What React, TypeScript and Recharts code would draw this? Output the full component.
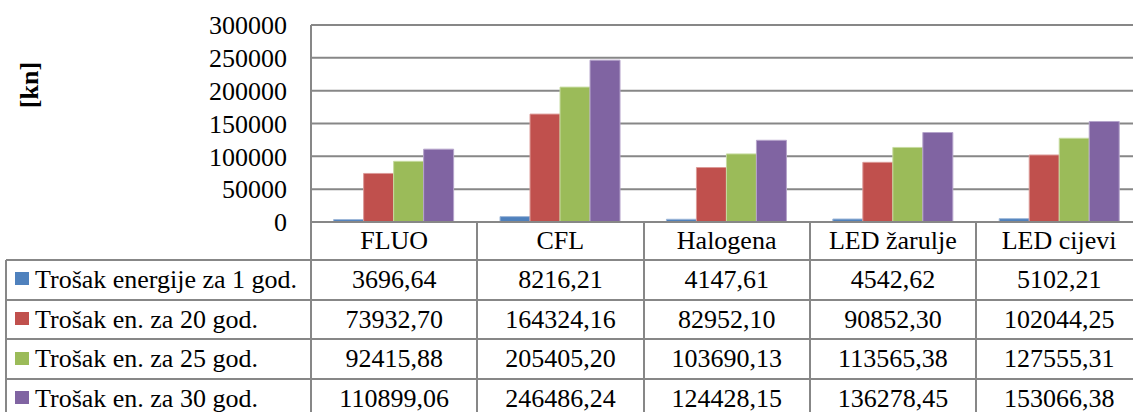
import { BarChart, Bar, XAxis, YAxis, CartesianGrid } from "recharts";

const categories = ["FLUO", "CFL", "Halogena", "LED žarulje", "LED cijevi"];
const seriesNames = [
  "Trošak energije za 1 god.",
  "Trošak en. za 20 god.",
  "Trošak en. za 25 god.",
  "Trošak en. za 30 god.",
];
const cost1 = [3696.64, 8216.21, 4147.61, 4542.62, 5102.21];
const cost20 = [73932.7, 164324.16, 82952.1, 90852.3, 102044.25];
const cost25 = [92415.88, 205405.2, 103690.13, 113565.38, 127555.31];
const cost30 = [110899.06, 246486.24, 124428.15, 136278.45, 153066.38];
const yTicks = [0, 50000, 100000, 150000, 200000, 250000, 300000];

const colors = ["#4F81BD", "#C0504D", "#9BBB59", "#8064A2"];
const edges = ["#9db7d8", "#dc9a98", "#c6db9f", "#b5a4cb"];
const seriesValues = [cost1, cost20, cost25, cost30];
const keys = ["s1", "s20", "s25", "s30"];

const chartData = categories.map((name, i) => ({
  name,
  s1: cost1[i],
  s20: cost20[i],
  s25: cost25[i],
  s30: cost30[i],
}));

// layout (Excel chart with a data table under the plot)
const FONT = '"Liberation Serif", serif';
const LINE = "#878787";
const PLOT_LEFT = 311;
const CAT_W = 166.25;
const PLOT_RIGHT = PLOT_LEFT + CAT_W * categories.length;
const PLOT_TOP = 25;
const PLOT_BOTTOM = 222;
const HEADER_BOTTOM = 260;
const ROW_H = 39.7;

const fmt = (v: number) => v.toFixed(2).replace(".", ",");

const hLine = (y: number, x1: number, x2: number, k: string) => (
  <div key={k} style={{ position: "absolute", left: x1, top: y - 1, width: x2 - x1, height: 2, background: LINE }} />
);
const vLine = (x: number, y1: number, y2: number, k: string) => (
  <div key={k} style={{ position: "absolute", left: x - 1, top: y1, width: 2, height: y2 - y1, background: LINE }} />
);

const DataTable = () => {
  const lines = [];
  lines.push(hLine(PLOT_BOTTOM, PLOT_LEFT, PLOT_RIGHT, "h-top"));
  for (let r = 0; r <= seriesNames.length; r++) {
    lines.push(hLine(HEADER_BOTTOM + r * ROW_H, 6, PLOT_RIGHT, `h${r}`));
  }
  lines.push(vLine(6, HEADER_BOTTOM, 412, "v-left"));
  for (let c = 0; c <= categories.length; c++) {
    lines.push(vLine(PLOT_LEFT + c * CAT_W, PLOT_BOTTOM, 412, `v${c}`));
  }
  const cell = { position: "absolute" as const, fontSize: 26, fontFamily: FONT, color: "#000", whiteSpace: "nowrap" as const };
  return (
    <>
      {categories.map((c, i) => (
        <div
          key={c}
          style={{ ...cell, left: PLOT_LEFT + i * CAT_W, width: CAT_W, top: PLOT_BOTTOM, height: HEADER_BOTTOM - PLOT_BOTTOM, lineHeight: `${HEADER_BOTTOM - PLOT_BOTTOM}px`, textAlign: "center" }}
        >
          {c}
        </div>
      ))}
      {seriesNames.map((s, r) => {
        const top = HEADER_BOTTOM + r * ROW_H;
        return (
          <div key={s}>
            <div style={{ position: "absolute", left: 15, top: top + ROW_H / 2 - 7.5, width: 14, height: 13, background: colors[r] }} />
            <div style={{ ...cell, left: 35, top, height: ROW_H, lineHeight: `${ROW_H}px` }}>{s}</div>
            {seriesValues[r].map((v, i) => (
              <div
                key={i}
                style={{ ...cell, left: PLOT_LEFT + i * CAT_W, width: CAT_W, top, height: ROW_H, lineHeight: `${ROW_H}px`, textAlign: "center" }}
              >
                {fmt(v)}
              </div>
            ))}
          </div>
        );
      })}
      {lines}
    </>
  );
};

export default function App() {
  return (
    <div style={{ position: "absolute", left: 0, top: 0, width: 1133, height: 412, overflow: "hidden", background: "#fff", fontFamily: FONT }}>
      <div
        style={{
          position: "absolute",
          left: 30 - 40,
          top: 85 - 16,
          width: 80,
          height: 32,
          lineHeight: "32px",
          textAlign: "center",
          transform: "rotate(-90deg)",
          fontWeight: "bold",
          fontSize: 26,
          fontFamily: FONT,
        }}
      >
        [kn]
      </div>
      <div style={{ position: "absolute", left: 0, top: 0 }}>
        <BarChart
          width={Math.ceil(PLOT_RIGHT)}
          height={PLOT_BOTTOM + 20}
          data={chartData}
          margin={{ top: PLOT_TOP, right: 0, left: 0, bottom: 20 }}
          barCategoryGap="13.6%"
          barGap={0}
          style={{ fontFamily: FONT }}
        >
          <CartesianGrid vertical={false} stroke={LINE} strokeWidth={2} />
          <XAxis dataKey="name" hide />
          <YAxis
            width={PLOT_LEFT}
            domain={[0, 300000]}
            ticks={yTicks}
            interval={0}
            tickLine={false}
            tickMargin={18}
            axisLine={{ stroke: LINE, strokeWidth: 2 }}
            tick={{ fill: "#000", fontSize: 26, fontFamily: FONT }}
            tickFormatter={(v) => String(v)}
          />
          {keys.map((k, i) => (
            <Bar key={k} dataKey={k} fill={colors[i]} stroke={edges[i]} strokeWidth={1} isAnimationActive={false} />
          ))}
        </BarChart>
      </div>
      <DataTable />
    </div>
  );
}
